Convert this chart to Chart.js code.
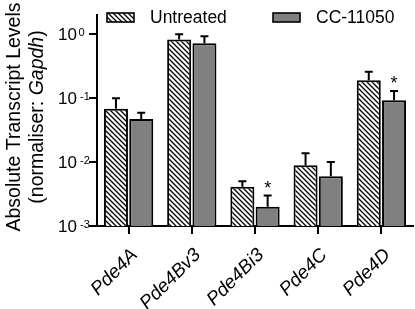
<!DOCTYPE html>
<html>
<head>
<meta charset="utf-8">
<script src="https://cdn.jsdelivr.net/npm/chart.js@4.4.0/dist/chart.umd.min.js"></script>
<style>
  html, body { margin: 0; padding: 0; background: #fff; }
  #wrap { width: 415px; height: 309px; }
</style>
</head>
<body>
<div id="wrap"><canvas id="chart"></canvas></div>
<script>
const categories = ['Pde4A', 'Pde4Bv3', 'Pde4Bi3', 'Pde4C', 'Pde4D'];
const untreated = [0.068, 0.83, 0.0041, 0.0089, 0.19];
const untreatedErr = [0.1, 1.0, 0.005, 0.0138, 0.26];
const cc11050 = [0.047, 0.72, 0.002, 0.006, 0.093];
const cc11050Err = [0.059, 0.93, 0.003, 0.01, 0.13];
const significant = [false, false, true, false, true];
const yTicks = [0.001, 0.01, 0.1, 1];

const FONT = "'Liberation Sans', Arial, sans-serif";
const GREY = '#808080';

// diagonal hatch for the untreated bars
function hatch() {
  const s = 5;
  const c = document.createElement('canvas');
  c.width = s; c.height = s;
  const g = c.getContext('2d');
  g.fillStyle = '#fff';
  g.fillRect(0, 0, s, s);
  g.strokeStyle = '#000';
  g.lineWidth = 1.3;
  g.beginPath();
  g.moveTo(-1, -1); g.lineTo(s + 1, s + 1);
  g.moveTo(-1, s - 1); g.lineTo(1, s + 1);
  g.moveTo(s - 1, -1); g.lineTo(s + 1, 1);
  g.stroke();
  return g.createPattern(c, 'repeat');
}
const hatchFill = hatch();

const extras = {
  id: 'extras',
  afterDatasetsDraw(chart) {
    const ctx = chart.ctx;
    const y = chart.scales.y;
    ctx.save();
    ctx.strokeStyle = '#000';
    ctx.lineWidth = 2;
    ctx.fillStyle = '#000';
    ctx.font = '18px ' + FONT;
    ctx.textAlign = 'center';
    ctx.textBaseline = 'alphabetic';
    [untreatedErr, cc11050Err].forEach((errs, di) => {
      chart.getDatasetMeta(di).data.forEach((bar, i) => {
        const top = y.getPixelForValue(errs[i]);
        ctx.beginPath();
        ctx.moveTo(bar.x, bar.y);
        ctx.lineTo(bar.x, top);
        ctx.moveTo(bar.x - 4, top);
        ctx.lineTo(bar.x + 4, top);
        ctx.stroke();
        if (di === 1 && significant[i]) {
          ctx.fillText('*', bar.x, top - 2);
        }
      });
    });
    ctx.restore();
  },
  afterDraw(chart) {
    const ctx = chart.ctx;
    const y = chart.scales.y;
    ctx.save();
    ctx.fillStyle = '#000';

    // y tick labels with superscript exponents
    y.ticks.forEach(t => {
      const py = y.getPixelForValue(t.value);
      const exp = Math.round(Math.log10(t.value));
      ctx.font = '17px ' + FONT;
      ctx.textAlign = 'right';
      ctx.textBaseline = 'middle';
      ctx.fillText('10', 77, py + 1);
      ctx.font = '11px ' + FONT;
      ctx.textAlign = 'left';
      ctx.textBaseline = 'top';
      ctx.fillText(exp < 0 ? '-' + (-exp) : String(exp), exp < 0 ? 80 : 78.5, py - 7);
    });

    // y axis title, two lines, Gapdh in italics
    ctx.save();
    ctx.translate(0, 117);
    ctx.rotate(-Math.PI / 2);
    ctx.textBaseline = 'alphabetic';
    ctx.font = '19.5px ' + FONT;
    ctx.textAlign = 'center';
    ctx.fillText('Absolute Transcript Levels', 0, 20);
    const parts = [['(normaliser: ', ''], ['Gapdh', 'italic '], [')', '']];
    let total = 0;
    parts.forEach(p => { ctx.font = p[1] + '19.5px ' + FONT; total += ctx.measureText(p[0]).width; });
    let x = -total / 2;
    ctx.textAlign = 'left';
    parts.forEach(p => {
      ctx.font = p[1] + '19.5px ' + FONT;
      ctx.fillText(p[0], x, 43);
      x += ctx.measureText(p[0]).width;
    });
    ctx.restore();

    // legend
    const items = [[107, 150], [273, 316]];
    chart.data.datasets.forEach((ds, i) => {
      const [bx, tx] = items[i];
      ctx.fillStyle = ds.backgroundColor;
      ctx.fillRect(bx, 13, 27, 9);
      ctx.strokeStyle = '#000';
      ctx.lineWidth = 1.6;
      ctx.strokeRect(bx, 13, 27, 9);
      ctx.fillStyle = '#000';
      ctx.font = '17.5px ' + FONT;
      ctx.textAlign = 'left';
      ctx.textBaseline = 'alphabetic';
      ctx.fillText(ds.label, tx, 22.7);
    });
    ctx.restore();
  }
};

new Chart(document.getElementById('chart'), {
  type: 'bar',
  data: {
    labels: categories,
    datasets: [
      {
        label: 'Untreated',
        data: untreated,
        backgroundColor: hatchFill,
        borderColor: '#000',
        borderWidth: 2,
        borderSkipped: 'bottom'
      },
      {
        label: 'CC-11050',
        data: cc11050,
        backgroundColor: GREY,
        borderColor: '#000',
        borderWidth: 2,
        borderSkipped: 'bottom'
      }
    ]
  },
  options: {
    responsive: true,
    maintainAspectRatio: false,
    animation: false,
    devicePixelRatio: 1,
    layout: { padding: { top: 15, right: 2, left: 0, bottom: 0 } },
    datasets: { bar: { categoryPercentage: 0.8, barPercentage: 0.95 } },
    plugins: {
      legend: { display: false },
      tooltip: { enabled: false }
    },
    scales: {
      x: {
        offset: true,
        border: { color: '#000', width: 2 },
        grid: { offset: false, drawOnChartArea: false, drawTicks: true, tickLength: 8, color: '#000', lineWidth: 2 },
        ticks: {
          color: '#000',
          font: { family: FONT, size: 19, style: 'italic' },
          minRotation: 45,
          maxRotation: 45,
          padding: 10,
          labelOffset: 6
        },
        afterFit(scale) { scale.height = 83; }
      },
      y: {
        type: 'logarithmic',
        min: 0.001,
        max: 2,
        border: { color: '#000', width: 2 },
        grid: { drawOnChartArea: false, drawTicks: true, tickLength: 8, color: '#000', lineWidth: 2 },
        ticks: { display: false },
        afterBuildTicks(scale) {
          scale.ticks = yTicks.map(v => ({ value: v, major: true }));
        },
        afterFit(scale) { scale.width = 97; }
      }
    }
  },
  plugins: [extras]
});
</script>
</body>
</html>
